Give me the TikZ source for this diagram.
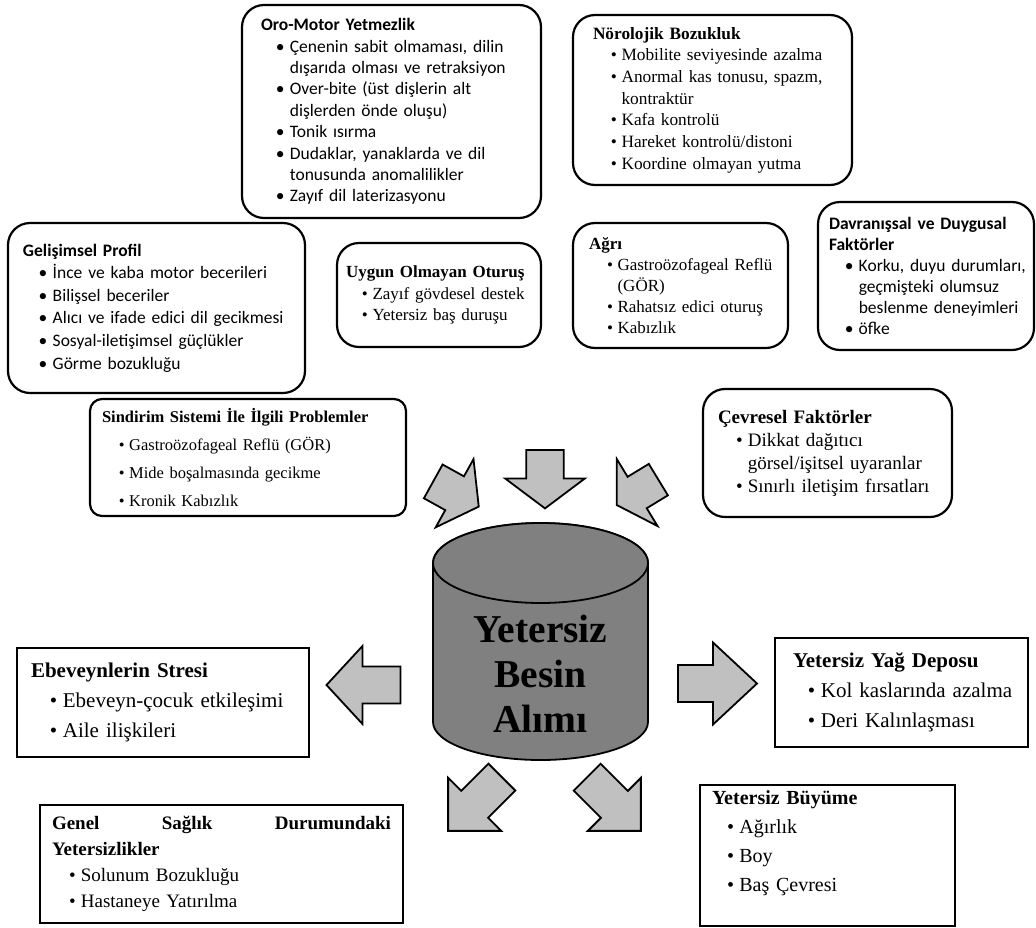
\documentclass[tikz,border=0pt]{standalone}
\usepackage{fontspec}
\setmainfont{Liberation Serif}
\newfontfamily\calib{Carlito}
\usepackage{tikz}
\usetikzlibrary{shapes.geometric}
\usetikzlibrary{positioning}
\definecolor{arrowgray}{HTML}{C0C0C0}
\definecolor{cylgray}{HTML}{808080}
\tikzstyle{roundbox} = [rectangle, rounded corners=22pt, draw=black, line width=2.2pt, align=left, inner ysep=3pt]
\tikzstyle{plainbox} = [rectangle, draw=black, line width=1.8pt, align=left, inner ysep=3pt]
\tikzstyle{blockarrow} = [draw=black, line width=1.8pt, fill=arrowgray, line join=miter]
\newcommand{\ttl}[1]{\mbox{\bfseries #1}}
% serif items
\newcommand{\itm}[2][1.03em]{\hspace*{#1}\makebox[0.62em][l]{\textbullet}\mbox{#2}}
\newcommand{\more}[2][1.03em]{\hspace*{#1}\hspace*{0.62em}\mbox{#2}}
% sans items
\newcommand{\citm}[2][0.85em]{\hspace*{#1}\makebox[0.8em][l]{\textbullet}\mbox{#2}}
\newcommand{\cmore}[2][0.85em]{\hspace*{#1}\hspace*{0.8em}\mbox{#2}}
% block arrow: centre, angle, half length, head length, head half width, shaft half width
\newcommand{\fatarrow}[6]{\draw[blockarrow, shift={#1}, rotate=#2] (-#3,-#6) -- ({#3-#4},-#6) -- ({#3-#4},-#5) -- (#3,0) -- ({#3-#4},#5) -- ({#3-#4},#6) -- (-#3,#6) -- cycle;}

\begin{document}
\begin{tikzpicture}[x=1pt, y=1pt, node distance=100pt]
        \useasboundingbox (0,0) rectangle (1036,-927);
        % central cylinder
        \path [draw=black, line width=1.8pt, fill=cylgray] (433,-563) -- (433,-722) arc[start angle=180, end angle=360, x radius=107.5, y radius=38] -- (648,-563) arc[start angle=0, end angle=180, x radius=107.5, y radius=40] -- cycle;
        \draw [line width=1.8pt, fill=cylgray] (540.5,-563) ellipse[x radius=107.5, y radius=40];
        \node (cyl) [align=center, font=\fontsize{39.5}{45}\selectfont\bfseries] at (540.5,-674) {Yetersiz\\Besin\\Alımı};

        % causes
        \node (oro) [roundbox, above of=cyl, xshift=-149pt, yshift=462.5pt, text width=261pt, minimum height=213pt, inner xsep=19pt, font=\calib\fontsize{17.5}{21.4}\selectfont] {\ttl{Oro-Motor Yetmezlik}\\
            \citm{Çenenin sabit olmaması, dilin}\\
            \cmore{dışarıda olması ve retraksiyon}\\
            \citm{Over-bite (üst dişlerin alt}\\
            \cmore{dişlerden önde oluşu)}\\
            \citm{Tonik ısırma}\\
            \citm{Dudaklar, yanaklarda ve dil}\\
            \cmore{tonusunda anomalilikler}\\
            \citm{Zayıf dil laterizasyonu}};
        \node (noro) [roundbox, above of=cyl, xshift=172pt, yshift=474pt, text width=239pt, minimum height=170pt, inner xsep=20pt, font=\fontsize{17.3}{21.7}\selectfont] {\ttl{Nörolojik Bozukluk}\\
            \itm{Mobilite seviyesinde azalma}\\
            \itm{Anormal kas tonusu, spazm,}\\
            \more{kontraktür}\\
            \itm{Kafa kontrolü}\\
            \itm{Hareket kontrolü/distoni}\\
            \itm{Koordine olmayan yutma}};
        \node (gelis) [roundbox, left of=cyl, xshift=-284pt, yshift=366pt, text width=267pt, minimum height=170pt, inner xsep=15pt, font=\calib\fontsize{17.5}{22.6}\selectfont] {\ttl{Gelişimsel Profil}\\
            \citm[0.9em]{İnce ve kaba motor becerileri}\\
            \citm[0.9em]{Bilişsel beceriler}\\
            \citm[0.9em]{Alıcı ve ifade edici dil gecikmesi}\\
            \citm[0.9em]{Sosyal-iletişimsel güçlükler}\\
            \citm[0.9em]{Görme bozukluğu}};
        \node (uygun) [roundbox, above of=cyl, xshift=-101.5pt, yshift=279pt, text width=186pt, minimum height=104pt, inner xsep=9pt, font=\fontsize{17}{21.5}\selectfont] {\ttl{Uygun Olmayan Oturuş}\\
            \itm[0.94em]{Zayıf gövdesel destek}\\
            \itm[0.94em]{Yetersiz baş duruşu}};
        \node (agri) [roundbox, above of=cyl, xshift=140pt, yshift=288.5pt, text width=183pt, minimum height=125pt, inner xsep=16pt, font=\fontsize{17}{21}\selectfont] {\ttl{Ağrı}\\
            \itm[1.06em]{Gastroözofageal Reflü}\\
            \more[1.06em]{(GÖR)}\\
            \itm[1.06em]{Rahatsız edici oturuş}\\
            \itm[1.06em]{Kabızlık}};
        \node (davr) [roundbox, right of=cyl, xshift=285.5pt, yshift=398pt, text width=194pt, minimum height=148pt, inner xsep=11pt, font=\calib\fontsize{17.5}{21}\selectfont] {\ttl{Davranışsal ve Duygusal}\\
            \ttl{Faktörler}\\
            \citm[0.9em]{Korku, duyu durumları,}\\
            \cmore[0.9em]{geçmişteki olumsuz}\\
            \cmore[0.9em]{beslenme deneyimleri}\\
            \citm[0.9em]{öfke}};
        \node (sind) [roundbox, rounded corners=12pt, left of=cyl, xshift=-192.5pt, yshift=216.5pt, text width=292pt, minimum height=117pt, inner xsep=12pt, font=\fontsize{16.5}{27.7}\selectfont] {\ttl{Sindirim Sistemi İle İlgili Problemler}\\
            \itm{Gastroözofageal Reflü (GÖR)}\\
            \itm{Mide boşalmasında gecikme}\\
            \itm{Kronik Kabızlık}};
        \node (cevre) [roundbox, right of=cyl, xshift=187pt, yshift=221pt, text width=219pt, minimum height=128pt, inner xsep=15pt, font=\fontsize{19}{23}\selectfont] {\ttl{Çevresel Faktörler}\\
            \itm[0.95em]{Dikkat dağıtıcı}\\
            \more[0.95em]{görsel/işitsel uyaranlar}\\
            \itm[0.95em]{Sınırlı iletişim fırsatları}};

        % results
        \node (ebev) [plainbox, left of=cyl, xshift=-277.5pt, yshift=-28.5pt, text width=264pt, minimum height=109pt, inner xsep=14pt, font=\fontsize{21}{30}\selectfont] {\ttl{Ebeveynlerin Stresi}\\
            \itm[0.9em]{Ebeveyn-çocuk etkileşimi}\\
            \itm[0.9em]{Aile ilişkileri}};
        \node (yag) [plainbox, right of=cyl, xshift=261pt, yshift=-18.5pt, text width=217pt, minimum height=109pt, inner xsep=18pt, font=\fontsize{21}{30}\selectfont] {\ttl{Yetersiz Yağ Deposu}\\
            \itm[0.71em]{Kol kaslarında azalma}\\
            \itm[0.71em]{Deri Kalınlaşması}};
        \node (genel) [plainbox, below of=cyl, xshift=-319pt, yshift=-90pt, text width=339pt, minimum height=118pt, inner xsep=12pt, font=\fontsize{19}{26}\selectfont] {{\bfseries\hbox to 339pt{Genel\hfill Sağlık\hfill Durumundaki}}\\
            \ttl{Yetersizlikler}\\
            \itm[0.9em]{Solunum Bozukluğu}\\
            \itm[0.9em]{Hastaneye Yatırılma}};
        \node (buyu) [plainbox, below of=cyl, xshift=287pt, yshift=-81.5pt, text width=231pt, minimum height=141pt, inner xsep=12pt, font=\fontsize{20}{29}\selectfont] {\ttl{Yetersiz Büyüme}\\
            \itm[0.75em]{Ağırlık}\\
            \itm[0.75em]{Boy}\\
            \itm[0.75em]{Baş Çevresi}\\
            \mbox{}};

        % block arrows into and out of the cylinder
        \fatarrow{(545,-479.2)}{-90}{29.2}{30}{40}{18.7}
        \fatarrow{(456,-494)}{-29}{26}{27.6}{39}{19.3}
        \fatarrow{(637.5,-492.3)}{-148.7}{24.4}{24}{39.3}{18.4}
        \fatarrow{(363.5,-685)}{180}{37}{36}{39}{18.5}
        \fatarrow{(717.5,-683.5)}{0}{39.5}{44}{41}{18.5}
        \fatarrow{(475,-804)}{-135}{38}{37.5}{37.5}{19}
        \fatarrow{(614,-804)}{-45}{38}{37.5}{37.5}{19}
    \end{tikzpicture}
\end{document}
